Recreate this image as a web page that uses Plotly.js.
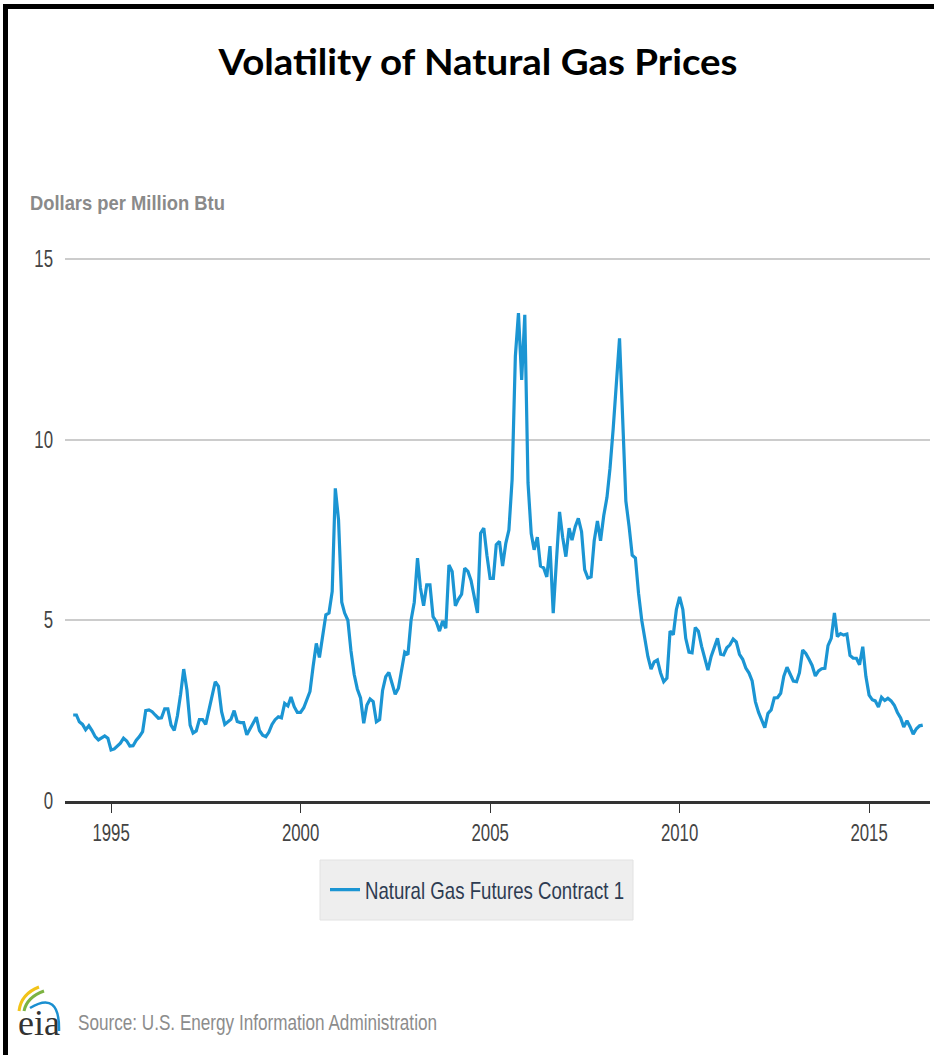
<!DOCTYPE html>
<html>
<head>
<meta charset="utf-8">
<script src="https://cdn.plot.ly/plotly-3.0.1.min.js"></script>
<style>
  html, body { margin: 0; padding: 0; background: #fff; }
  #wrap { position: relative; width: 934px; height: 1055px; overflow: hidden; }
  #chart { position: absolute; left: 0; top: 0; width: 934px; height: 1055px; }
  #frame { position: absolute; left: 3px; top: 4px; width: 940px; height: 1060px;
           border-top: 5px solid #000; border-left: 5px solid #000; pointer-events: none; }
</style>
</head>
<body>
<div id="wrap">
  <div id="chart"></div>
  <div id="frame"></div>
</div>
<script>
// Monthly Natural Gas Futures Contract 1 ($/MMBtu)
const years = [1994, 1995, 1996, 1997, 1998, 1999, 2000, 2001, 2002, 2003, 2004, 2005,
               2006, 2007, 2008, 2009, 2010, 2011, 2012, 2013, 2014, 2015, 2016];
const p1994 = [2.38, 2.38, 2.19, 2.12, 1.97, 2.08, 1.95, 1.78, 1.69, 1.74, 1.80, 1.74];
const p1995 = [1.41, 1.44, 1.53, 1.60, 1.74, 1.66, 1.52, 1.53, 1.68, 1.78, 1.92, 2.50];
const p1996 = [2.52, 2.47, 2.38, 2.29, 2.30, 2.55, 2.55, 2.10, 1.95, 2.35, 2.95, 3.65];
const p1997 = [3.07, 2.10, 1.88, 1.94, 2.25, 2.25, 2.12, 2.50, 2.85, 3.30, 3.17, 2.47];
const p1998 = [2.12, 2.20, 2.26, 2.50, 2.20, 2.17, 2.17, 1.83, 2.00, 2.15, 2.32, 1.95];
const p1999 = [1.82, 1.78, 1.90, 2.12, 2.25, 2.33, 2.30, 2.70, 2.63, 2.88, 2.61, 2.45];
const p2000 = [2.45, 2.58, 2.80, 3.03, 3.72, 4.36, 3.97, 4.60, 5.15, 5.20, 5.80, 8.65];
const p2001 = [7.78, 5.50, 5.20, 5.00, 4.15, 3.50, 3.10, 2.85, 2.15, 2.65, 2.82, 2.75];
const p2002 = [2.19, 2.25, 3.05, 3.44, 3.56, 3.25, 2.95, 3.12, 3.60, 4.12, 4.05, 5.00];
const p2003 = [5.50, 6.72, 5.90, 5.40, 5.98, 5.98, 5.10, 4.96, 4.70, 4.98, 4.78, 6.53];
const p2004 = [6.35, 5.40, 5.58, 5.72, 6.44, 6.35, 6.10, 5.60, 5.20, 7.41, 7.55, 6.80];
const p2005 = [6.16, 6.16, 7.09, 7.18, 6.50, 7.13, 7.50, 8.90, 12.30, 13.50, 11.65, 13.45];
const p2006 = [8.80, 7.40, 6.95, 7.30, 6.50, 6.45, 6.20, 7.05, 5.20, 6.60, 8.00, 7.30];
const p2007 = [6.76, 7.55, 7.22, 7.59, 7.82, 7.45, 6.40, 6.17, 6.20, 7.20, 7.75, 7.20];
const p2008 = [7.90, 8.40, 9.20, 10.30, 11.50, 12.80, 10.60, 8.30, 7.60, 6.80, 6.72, 5.75];
const p2009 = [5.00, 4.40, 4.00, 3.65, 3.85, 3.90, 3.55, 3.30, 3.40, 4.70, 4.60, 5.30];
const p2010 = [5.65, 5.30, 4.50, 4.12, 4.10, 4.80, 4.70, 4.28, 3.92, 3.62, 4.00, 4.27];
const p2011 = [4.50, 4.06, 4.04, 4.24, 4.32, 4.48, 4.40, 4.06, 3.92, 3.68, 3.54, 3.32];
const p2012 = [2.75, 2.45, 2.25, 2.03, 2.42, 2.52, 2.85, 2.86, 2.98, 3.45, 3.70, 3.50];
const p2013 = [3.32, 3.30, 3.55, 4.18, 4.08, 3.92, 3.75, 3.46, 3.60, 3.66, 3.67, 4.30];
const p2014 = [4.50, 5.20, 4.55, 4.63, 4.59, 4.62, 4.03, 3.95, 3.95, 3.77, 4.27, 3.45];
const p2015 = [2.93, 2.80, 2.77, 2.60, 2.87, 2.78, 2.84, 2.77, 2.65, 2.45, 2.30, 2.05];
const p2016 = [2.22, 2.05, 1.85, 2.00, 2.08, 2.10];

const yearly = [p1994, p1995, p1996, p1997, p1998, p1999, p2000, p2001, p2002, p2003, p2004, p2005,
                p2006, p2007, p2008, p2009, p2010, p2011, p2012, p2013, p2014, p2015, p2016];

const tickVals = ['1995-01-01', '2000-01-01', '2005-01-01', '2010-01-01', '2015-01-01'];
const tickText = ['1995', '2000', '2005', '2010', '2015'];
const yTicks = [0, 5, 10, 15];

const seriesName = 'Natural Gas Futures Contract 1';
const chartTitle = 'Volatility of Natural Gas Prices';
const unitLabel = 'Dollars per Million Btu';
const sourceText = 'Source: U.S. Energy Information Administration';

const dates = [], prices = [];
years.forEach((yr, k) => {
  yearly[k].forEach((v, m) => {
    dates.push(yr + '-' + String(m + 1).padStart(2, '0') + '-01');
    prices.push(v);
  });
});

// layout geometry (pixels)
const W = 934, H = 1055;
const L = 65, R = 930, T = 248, B = 801;
const px = x => (x - L) / (R - L);
const py = y => (B - y) / (B - T);

const sans = "'Liberation Sans', Arial, sans-serif";

const trace = {
  x: dates, y: prices, type: 'scatter', mode: 'lines', name: seriesName,
  line: { color: '#1b95d3', width: 3.2 },
  hoverinfo: 'x+y'
};

function arc(x0, y0, cx, cy, x1, y1) {
  return 'M ' + px(x0) + ' ' + py(y0) + ' Q ' + px(cx) + ' ' + py(cy) + ' ' + px(x1) + ' ' + py(y1);
}

const layout = {
  width: W, height: H,
  margin: { l: L, r: W - R, t: T, b: H - B, pad: 0 },
  paper_bgcolor: '#ffffff', plot_bgcolor: '#ffffff',
  title: {
    text: chartTitle, xref: 'container', yref: 'container',
    x: 478 / W, y: 1 - 62 / H, xanchor: 'center', yanchor: 'middle',
    font: { family: 'Lato, "Open Sans", sans-serif', size: 37, color: '#000', weight: 700 }
  },
  xaxis: {
    type: 'date', range: ['1993-10-14', '2016-08-10'],
    tickmode: 'array', tickvals: tickVals, ticktext: tickText,
    ticks: 'outside', ticklen: 9, tickwidth: 1, tickcolor: '#333',
    showline: true, linecolor: '#333', linewidth: 3,
    showgrid: false, zeroline: false,
    tickfont: { family: sans, size: 23, color: '#444' },
    fixedrange: true
  },
  yaxis: {
    range: [0, 15.3], tickmode: 'array', tickvals: yTicks,
    showgrid: true, gridcolor: '#cccccc', gridwidth: 2,
    zeroline: false, showline: false, ticks: '',
    ticklabelstandoff: 11,
    tickfont: { family: sans, size: 23, color: '#444' },
    fixedrange: true
  },
  showlegend: true,
  legend: {
    xref: 'container', yref: 'container',
    x: 325 / W, y: 1 - 890 / H, xanchor: 'left', yanchor: 'middle',
    orientation: 'h', bgcolor: 'rgba(0,0,0,0)', borderwidth: 0,
    font: { family: sans, size: 24, color: '#2e3c52' }
  },
  shapes: [
    { type: 'rect', xref: 'paper', yref: 'paper', layer: 'below',
      x0: px(320), x1: px(633), y0: py(860), y1: py(920),
      fillcolor: '#eeeeee', line: { color: '#e2e2e2', width: 1 } },
    { type: 'path', xref: 'paper', yref: 'paper', path: arc(19, 1011, 21, 994, 39, 987),
      line: { color: '#f2c318', width: 3 } },
    { type: 'path', xref: 'paper', yref: 'paper', path: arc(24, 1011, 27, 997, 44, 991),
      line: { color: '#7cb342', width: 3 } },
    { type: 'path', xref: 'paper', yref: 'paper', path: arc(30, 1008, 60, 990, 59, 1031),
      line: { color: '#1a8fd0', width: 2.5 } }
  ],
  annotations: [
    { text: '<b>' + unitLabel + '</b>', xref: 'paper', yref: 'paper',
      x: px(127.5), y: py(203), xanchor: 'center', yanchor: 'middle', showarrow: false,
      font: { family: sans, size: 21, color: '#8a8a8a' } },
    { text: sourceText, xref: 'paper', yref: 'paper',
      x: px(257.5), y: py(1022), xanchor: 'center', yanchor: 'middle', showarrow: false,
      font: { family: sans, size: 22, color: '#8c8c8c' } },
    { text: 'eia', xref: 'paper', yref: 'paper',
      x: px(39), y: py(1023), xanchor: 'center', yanchor: 'middle', showarrow: false,
      font: { family: "'Liberation Serif', 'DejaVu Serif', serif", size: 36, color: '#333' } }
  ]
};

// narrow the glyphs (the reference uses a condensed face)
function squeeze(el, target) {
  const w = el.getComputedTextLength();
  if (!w) return;
  el.setAttribute('textLength', target);
  el.setAttribute('lengthAdjust', 'spacingAndGlyphs');
}

Plotly.newPlot('chart', [trace], layout, { displayModeBar: false, staticPlot: true }).then(gd => {
  gd.querySelectorAll('.xtick text, .ytick text').forEach(t => squeeze(t, t.getComputedTextLength() * 0.73));
  const ttl = gd.querySelector('.gtitle');
  if (ttl) squeeze(ttl, 519);
  gd.querySelectorAll('.legendtext').forEach(t => squeeze(t, 259));
  gd.querySelectorAll('.annotation-text').forEach(t => {
    const s = t.textContent;
    if (s === unitLabel) squeeze(t, 195);
    else if (s === sourceText) squeeze(t, 359);
  });
});
</script>
</body>
</html>
